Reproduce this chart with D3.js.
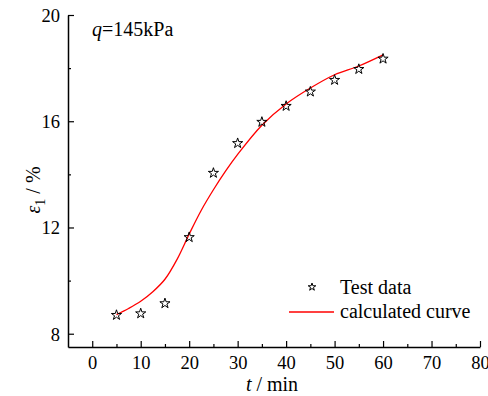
<!DOCTYPE html>
<html><head><meta charset="utf-8">
<script src="https://cdn.jsdelivr.net/npm/d3@7"></script>
<style>body{margin:0;background:#fff}svg{display:block}</style>
</head><body>
<script>
// Data
const testT = [5, 10, 15, 20, 25, 30, 35, 40, 45, 50, 55, 60];
const testE = [8.70, 8.76, 9.14, 11.63, 14.05, 15.17, 15.97, 16.57, 17.11, 17.55, 17.96, 18.35];
const curveT = [5, 7.5, 10, 12.5, 15, 17.5, 20, 22.5, 25, 27.5, 30, 35, 40, 45, 50, 55, 60];
const curveE = [8.72, 8.95, 9.22, 9.58, 10.05, 10.8, 11.75, 12.65, 13.42, 14.12, 14.75, 15.85, 16.65, 17.25, 17.75, 18.08, 18.5];
const xMajor = [0, 10, 20, 30, 40, 50, 60, 70, 80];
const xMinor = [5, 15, 25, 35, 45, 55, 65, 75];
const yMajor = [8, 12, 16, 20];
const yMinor = [10, 14, 18];
const legendLabels = ["Test data", "calculated curve"];

const W = 488, H = 396;
const L = 68, R = 480, T = 15, B = 347;
const FONT = "Liberation Serif, Times New Roman, serif";
const svg = d3.select("body").append("svg").attr("width", W).attr("height", H);

const x = d3.scaleLinear().domain([-5, 80]).range([L, R]);
const y = d3.scaleLinear().domain([7.5, 20]).range([B, T]);

// axes
const xAxis = svg.append("g").attr("transform", `translate(0,${B})`)
  .call(d3.axisBottom(x).tickValues(xMajor).tickSize(-6).tickPadding(0).tickSizeOuter(0).tickFormat(d3.format("d")));
const xMin = svg.append("g").attr("transform", `translate(0,${B})`)
  .call(d3.axisBottom(x).tickValues(xMinor).tickSize(-3).tickSizeOuter(0).tickFormat(""));
xMin.select(".domain").remove();
xAxis.selectAll("text").attr("y", 22).attr("dy", 0).attr("fill", "#000");

const yAxis = svg.append("g").attr("transform", `translate(${L},0)`)
  .call(d3.axisLeft(y).tickValues(yMajor).tickSize(-6).tickSizeOuter(0).tickFormat(d3.format("d")));
const yMin = svg.append("g").attr("transform", `translate(${L},0)`)
  .call(d3.axisLeft(y).tickValues(yMinor).tickSize(-3).tickSizeOuter(0).tickFormat(""));
yMin.select(".domain").remove();
yAxis.selectAll("text").attr("x", -8).attr("dy", "0.34em").attr("fill", "#000");

svg.selectAll("g").attr("font-family", FONT).attr("font-size", 18.5);
svg.selectAll(".domain").attr("stroke", "#000").attr("stroke-width", 1.5);
svg.selectAll(".tick line").attr("stroke", "#000").attr("stroke-width", 1.2);

// curve
const cData = curveT.map((t, i) => [t, curveE[i]]);
svg.append("path").datum(cData)
  .attr("d", d3.line().x(d => x(d[0])).y(d => y(d[1])).curve(d3.curveCatmullRom))
  .attr("fill", "none").attr("stroke", "#ff0000").attr("stroke-width", 1.3);

// stars
const star = d3.symbol().type(d3.symbolStar).size(32);
svg.selectAll(".pt").data(testT.map((t, i) => [t, testE[i]])).enter().append("path")
  .attr("d", star)
  .attr("transform", d => `translate(${x(d[0])},${y(d[1])})`)
  .attr("fill", "none").attr("stroke", "#000").attr("stroke-width", 1);

// annotation
const ann = svg.append("text").attr("x", 92).attr("y", 36).attr("font-family", FONT).attr("font-size", 20);
ann.append("tspan").attr("font-style", "italic").text("q");
ann.append("tspan").text("=145kPa");

// axis titles
const xt = svg.append("text").attr("x", 272).attr("y", 391).attr("text-anchor", "middle").attr("font-family", FONT).attr("font-size", 20);
xt.append("tspan").attr("font-style", "italic").text("t");
xt.append("tspan").text(" / min");

const yt = svg.append("text").attr("transform", "translate(40,190) rotate(-90)").attr("text-anchor", "middle").attr("font-family", FONT).attr("font-size", 20);
yt.append("tspan").attr("font-style", "italic").text("ε");
yt.append("tspan").attr("dy", 5).attr("font-size", 14).text("1");
yt.append("tspan").attr("dy", -5).text(" / %");

// legend
svg.append("path").attr("d", d3.symbol().type(d3.symbolStar).size(18))
  .attr("transform", "translate(312,287)").attr("fill", "none").attr("stroke", "#000").attr("stroke-width", 1);
svg.append("text").attr("x", 340).attr("y", 294).attr("font-family", FONT).attr("font-size", 20).text(legendLabels[0]);
svg.append("line").attr("x1", 289).attr("x2", 334).attr("y1", 312).attr("y2", 312)
  .attr("stroke", "#ff0000").attr("stroke-width", 1.5);
svg.append("text").attr("x", 340).attr("y", 318).attr("font-family", FONT).attr("font-size", 20).text(legendLabels[1]);
</script>
</body></html>
